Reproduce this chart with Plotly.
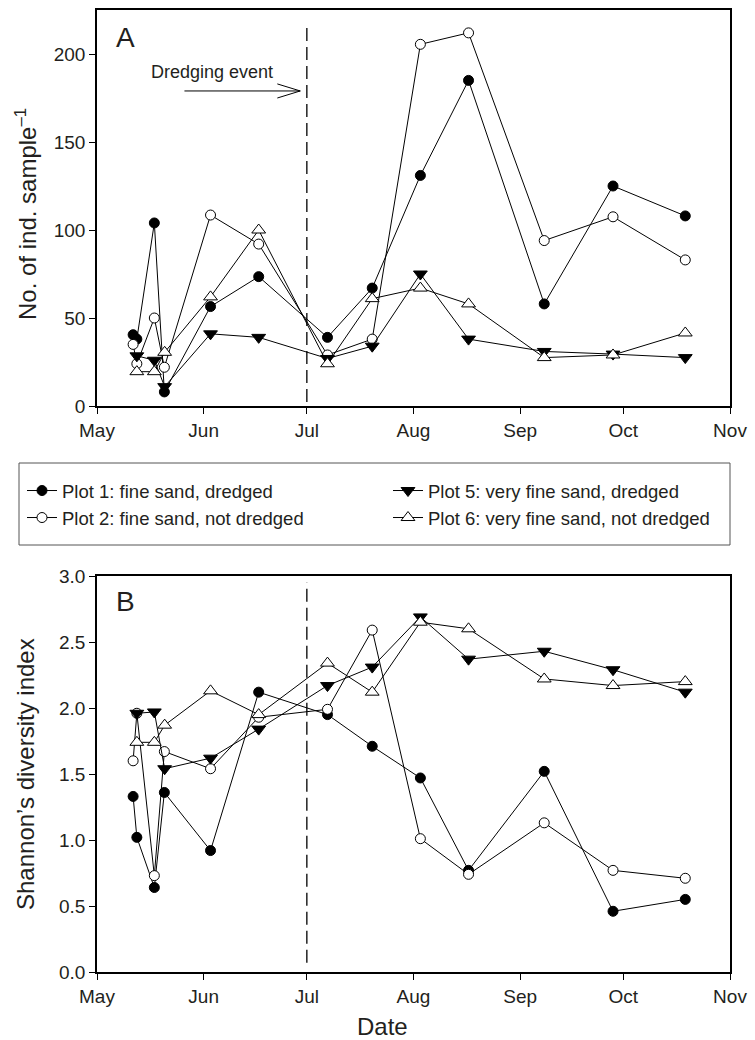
import plotly.graph_objects as go
from plotly.subplots import make_subplots

# ---------------- data ----------------
dates_12 = ["2007-05-11 12:00", "2007-05-12 14:00", "2007-05-17 16:00", "2007-05-20 14:00",
            "2007-06-03", "2007-06-17", "2007-07-07", "2007-07-20", "2007-08-03",
            "2007-08-17", "2007-09-08", "2007-09-28", "2007-10-19"]
dates_56 = ["2007-05-12 14:00", "2007-05-17 16:00", "2007-05-20 16:00",
            "2007-06-03", "2007-06-17", "2007-07-07", "2007-07-20", "2007-08-03",
            "2007-08-17", "2007-09-08", "2007-09-28", "2007-10-19"]

abund_p1 = [40.5, 38, 104, 8, 56.5, 73.5, 39, 67, 131, 185, 58, 125, 108]
abund_p2 = [35, 24, 50, 22, 108.5, 92, 29, 38, 205.5, 212, 94, 107.5, 83]
abund_p5 = [28.5, 26, 11, 41, 39, 27, 34, 75, 38, 31, 29.5, 27.5]
abund_p6 = [19.5, 19.5, 30.5, 62, 100, 24, 61, 67, 58, 27.5, 29, 41.5]

shannon_p1 = [1.33, 1.02, 0.64, 1.36, 0.92, 2.12, 1.95, 1.71, 1.47, 0.77, 1.52, 0.46, 0.55]
shannon_p2 = [1.60, 1.96, 0.73, 1.67, 1.54, 1.93, 1.99, 2.59, 1.01, 0.74, 1.13, 0.77, 0.71]
shannon_p5 = [1.96, 1.97, 1.54, 1.62, 1.84, 2.17, 2.31, 2.69, 2.37, 2.43, 2.29, 2.12]
shannon_p6 = [1.74, 1.74, 1.87, 2.13, 1.95, 2.34, 2.12, 2.65, 2.60, 2.22, 2.17, 2.20]

series_names = ["Plot 1: fine sand, dredged", "Plot 2: fine sand, not dredged",
                "Plot 5: very fine sand, dredged", "Plot 6: very fine sand, not dredged"]
month_ticks = ["2007-05-01", "2007-06-01", "2007-07-01", "2007-08-01",
               "2007-09-01", "2007-10-01", "2007-11-01"]
month_labels = ["May", "Jun", "Jul", "Aug", "Sep", "Oct", "Nov"]
dredge_date = "2007-07-01"

# ---------------- styles ----------------
TXT = "#231f20"
FONT = "Liberation Sans, Arial, Helvetica, sans-serif"
styles = [
    dict(symbol="circle", size=10, color="black"),
    dict(symbol="circle", size=10, color="white"),
    dict(symbol="triangle-down", size=12, color="black"),
    dict(symbol="triangle-up", size=12, color="white"),
]
legends = ["legend", "legend3", "legend2", "legend4"]

fig = make_subplots(rows=2, cols=1, vertical_spacing=0.0)

top_sets = [(dates_12, abund_p1), (dates_12, abund_p2), (dates_56, abund_p5), (dates_56, abund_p6)]
bot_sets = [(dates_12, shannon_p1), (dates_12, shannon_p2), (dates_56, shannon_p5), (dates_56, shannon_p6)]

for i, ((xd, yd), (xb, yb)) in enumerate(zip(top_sets, bot_sets)):
    st = styles[i]
    mk = dict(symbol=st["symbol"], size=st["size"], color=st["color"],
              line=dict(color="black", width=1))
    fig.add_trace(go.Scatter(x=xd, y=yd, mode="lines+markers", name=series_names[i],
                             line=dict(color="black", width=1), marker=mk,
                             legend=legends[i], showlegend=True), row=1, col=1)
    fig.add_trace(go.Scatter(x=xb, y=yb, mode="lines+markers", name=series_names[i],
                             line=dict(color="black", width=1), marker=mk,
                             showlegend=False), row=2, col=1)

# geometry (pixels -> paper)
W, H = 755, 1040
ML, MR, MT, MB = 97, 25, 10, 68
PW = W - ML - MR
PH = H - MT - MB
def px_x(x):
    return (x - ML) / PW
def px_y(y):
    return (H - MB - y) / PH

top_dom = [px_y(406), 1.0]
bot_dom = [0.0, px_y(576)]

TICKFONT = dict(size=19, color=TXT, family=FONT)
fig.update_xaxes(
    type="date", range=["2007-05-01", "2007-11-01"], tickvals=month_ticks, ticktext=month_labels,
    ticks="outside", ticklen=6, tickwidth=1, tickcolor="black",
    showline=True, linecolor="black", linewidth=1.5, mirror=True,
    showgrid=False, zeroline=False, tickfont=TICKFONT, automargin=False,
)
fig.update_yaxes(ticks="outside", ticklen=6, tickwidth=1, tickcolor="black",
                 showline=True, linecolor="black", linewidth=1.5, mirror=True,
                 showgrid=False, zeroline=False, tickfont=TICKFONT, automargin=False)
fig.update_layout(
    xaxis=dict(domain=[0, 1], anchor="y"),
    xaxis2=dict(domain=[0, 1], anchor="y2"),
    yaxis=dict(domain=top_dom, range=[0, 225], tickvals=[0, 50, 100, 150, 200]),
    yaxis2=dict(domain=bot_dom, range=[0, 3.0], tickvals=[0, 0.5, 1.0, 1.5, 2.0, 2.5, 3.0],
                tickformat=".1f"),
)

# dredging lines
fig.add_shape(type="line", xref="x", yref="y", x0=dredge_date, x1=dredge_date, y0=2.3, y1=216,
              line=dict(color="black", width=1.3, dash="13px,6px"))
fig.add_shape(type="line", xref="x2", yref="y2", x0=dredge_date, x1=dredge_date, y0=0.07, y1=2.95,
              line=dict(color="black", width=1.3, dash="13px,6px"))

# arrow "Dredging event"
arrow_y = 179
fig.add_shape(type="line", xref="x", yref="y", x0="2007-05-26 10:00", x1="2007-06-29 02:00",
              y0=arrow_y, y1=arrow_y, line=dict(color="black", width=1))
fig.add_shape(type="line", xref="x", yref="y", x0="2007-06-22 10:00", x1="2007-06-29 02:00",
              y0=arrow_y + 4, y1=arrow_y, line=dict(color="black", width=1))
fig.add_shape(type="line", xref="x", yref="y", x0="2007-06-22 10:00", x1="2007-06-29 02:00",
              y0=arrow_y - 4, y1=arrow_y, line=dict(color="black", width=1))
fig.add_annotation(xref="x", yref="y", x="2007-06-03 12:00", y=190, text="Dredging event",
                   showarrow=False, font=dict(size=18, color=TXT, family=FONT))

# panel letters
fig.add_annotation(xref="paper", yref="paper", x=px_x(114), y=px_y(37), text="A", showarrow=False,
                   xanchor="left", yanchor="middle", font=dict(size=28, color=TXT, family=FONT))
fig.add_annotation(xref="paper", yref="paper", x=px_x(114), y=px_y(601), text="B", showarrow=False,
                   xanchor="left", yanchor="middle", font=dict(size=28, color=TXT, family=FONT))

# axis titles
fig.add_annotation(xref="paper", yref="paper", x=px_x(26), y=px_y(214),
                   text="No. of ind. sample<sup>–1</sup>", textangle=-90, showarrow=False,
                   xanchor="center", yanchor="middle", font=dict(size=24, color=TXT, family=FONT))
fig.add_annotation(xref="paper", yref="paper", x=px_x(26), y=px_y(774),
                   text="Shannon’s diversity index", textangle=-90, showarrow=False,
                   xanchor="center", yanchor="middle", font=dict(size=24, color=TXT, family=FONT))
fig.add_annotation(xref="paper", yref="paper", x=px_x(382), y=px_y(1026), text="Date",
                   showarrow=False, xanchor="center", yanchor="middle",
                   font=dict(size=24, color=TXT, family=FONT))

# legend box
fig.add_shape(type="rect", xref="paper", yref="paper", x0=px_x(19), x1=1.0,
              y0=px_y(545), y1=px_y(463), line=dict(color="#555555", width=1), fillcolor="rgba(0,0,0,0)")

leg_font = dict(size=18.5, color=TXT, family=FONT)
leg_common = dict(bgcolor="rgba(0,0,0,0)", borderwidth=0, font=leg_font, itemwidth=30,
                  xanchor="left", yanchor="middle", orientation="v",
                  xref="container", yref="container")
def cx(x):
    return x / W
def cy(y):
    return 1 - y / H
fig.update_layout(
    legend=dict(x=cx(22), y=cy(491), **leg_common),
    legend3=dict(x=cx(22), y=cy(518), **leg_common),
    legend2=dict(x=cx(388), y=cy(491), **leg_common),
    legend4=dict(x=cx(388), y=cy(518), **leg_common),
)

fig.update_layout(
    width=W, height=H, margin=dict(l=ML, r=MR, t=MT, b=MB, autoexpand=False),
    paper_bgcolor="white", plot_bgcolor="white",
    font=dict(family=FONT, color=TXT),
)

fig.write_html("out.html", config={"displayModeBar": False},
               post_script="document.body.style.margin='0px';")
